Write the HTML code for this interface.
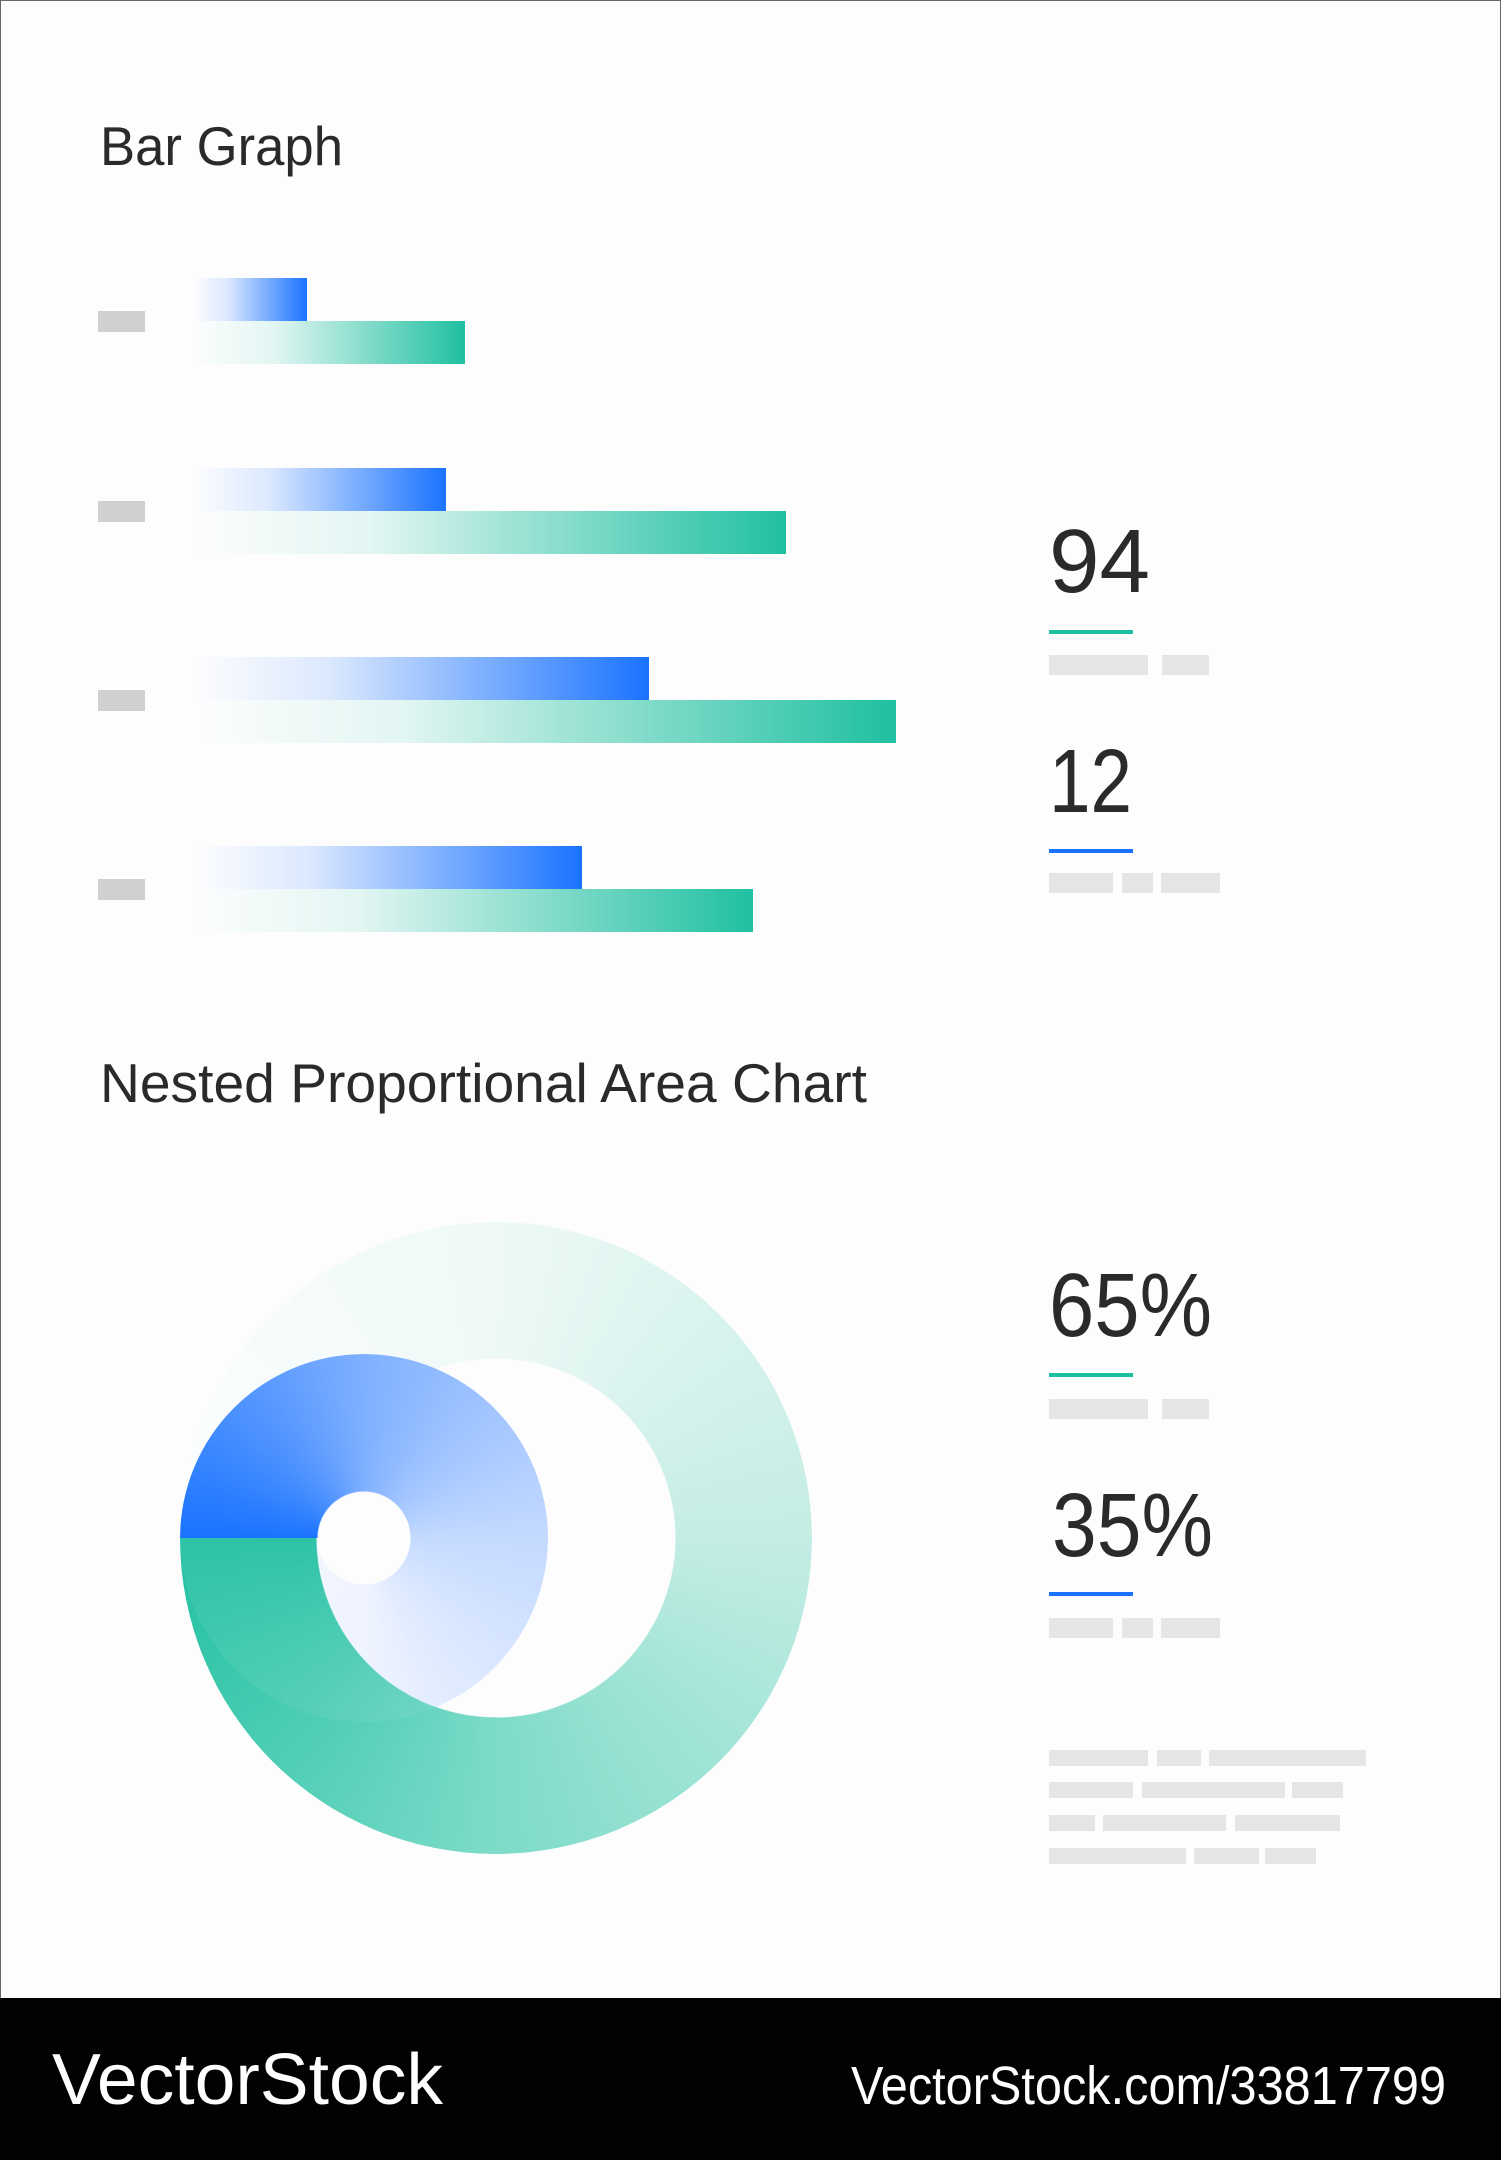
<!DOCTYPE html>
<html><head><meta charset="utf-8"><style>
html,body{margin:0;padding:0;}
body{width:1501px;height:2160px;position:relative;background:#fdfdfe;overflow:hidden;font-family:"Liberation Sans",sans-serif;}
.a{position:absolute;}
.frame{left:0;top:0;width:1499px;height:1997px;border:1px solid #666;border-bottom:none;}
.bl{position:absolute;height:43px;background:linear-gradient(90deg,rgba(26,115,255,0) 0%,rgba(26,115,255,0.15) 30%,#1a73ff 100%);}
.gr{position:absolute;height:43px;background:linear-gradient(90deg,rgba(31,192,160,0) 0%,rgba(31,192,160,0.12) 30%,#1fc0a0 100%);}
.lab{position:absolute;left:98px;width:47px;height:21px;background:#d0cfd2;}
.g{position:absolute;background:#e6e4e7;}
.ring{position:absolute;border-radius:50%;}
</style></head><body>
<div class="a frame"></div>

<div class="bl" style="left:193px;top:278px;width:114px"></div>
<div class="gr" style="left:193px;top:321px;width:272px"></div>
<div class="lab" style="top:311px"></div>
<div class="bl" style="left:193px;top:468px;width:253px"></div>
<div class="gr" style="left:193px;top:511px;width:593px"></div>
<div class="lab" style="top:501px"></div>
<div class="bl" style="left:193px;top:657px;width:456px"></div>
<div class="gr" style="left:193px;top:700px;width:703px"></div>
<div class="lab" style="top:690px"></div>
<div class="bl" style="left:193px;top:846px;width:389px"></div>
<div class="gr" style="left:193px;top:889px;width:560px"></div>
<div class="lab" style="top:879px"></div>

<div class="a" style="left:1049px;top:630px;width:84px;height:4px;background:#1fc0a0"></div>
<div class="g" style="left:1049px;top:655px;width:99px;height:20px"></div>
<div class="g" style="left:1162px;top:655px;width:47px;height:20px"></div>
<div class="a" style="left:1049px;top:849px;width:84px;height:4px;background:#1a73ff"></div>
<div class="g" style="left:1049px;top:873px;width:64px;height:20px"></div>
<div class="g" style="left:1122px;top:873px;width:31px;height:20px"></div>
<div class="g" style="left:1161px;top:873px;width:59px;height:20px"></div>

<div class="a" style="left:1049px;top:1373px;width:84px;height:4px;background:#1fc0a0"></div>
<div class="g" style="left:1049px;top:1399px;width:99px;height:20px"></div>
<div class="g" style="left:1162px;top:1399px;width:47px;height:20px"></div>
<div class="a" style="left:1049px;top:1592px;width:84px;height:4px;background:#1a73ff"></div>
<div class="g" style="left:1049px;top:1618px;width:64px;height:20px"></div>
<div class="g" style="left:1122px;top:1618px;width:31px;height:20px"></div>
<div class="g" style="left:1161px;top:1618px;width:59px;height:20px"></div>

<div class="g" style="left:1049px;top:1750px;width:99px;height:16px"></div>
<div class="g" style="left:1157px;top:1750px;width:44px;height:16px"></div>
<div class="g" style="left:1209px;top:1750px;width:157px;height:16px"></div>
<div class="g" style="left:1049px;top:1782px;width:84px;height:16px"></div>
<div class="g" style="left:1142px;top:1782px;width:143px;height:16px"></div>
<div class="g" style="left:1292px;top:1782px;width:51px;height:16px"></div>
<div class="g" style="left:1049px;top:1815px;width:46px;height:16px"></div>
<div class="g" style="left:1103px;top:1815px;width:123px;height:16px"></div>
<div class="g" style="left:1235px;top:1815px;width:105px;height:16px"></div>
<div class="g" style="left:1049px;top:1848px;width:137px;height:16px"></div>
<div class="g" style="left:1194px;top:1848px;width:65px;height:16px"></div>
<div class="g" style="left:1265px;top:1848px;width:51px;height:16px"></div>

<div class="ring" style="left:180px;top:1222px;width:632px;height:632px;
background:conic-gradient(from 270deg,#fdfeff 0deg,#eef9f7 90deg,#c4ede4 180deg,#7ddbc9 270deg,#1fc0a0 360deg);
-webkit-mask:radial-gradient(circle,transparent 179px,#000 180px);mask:radial-gradient(circle,transparent 179px,#000 180px);"></div>
<div class="ring" style="left:180px;top:1354px;width:368px;height:368px;
background:conic-gradient(from 270deg,#1a73ff 0deg,#7fb0ff 90deg,#c4daff 180deg,#f0f4ff 270deg,#f4f7ff 360deg);
-webkit-mask:radial-gradient(circle,transparent 46px,#000 47px);mask:radial-gradient(circle,transparent 46px,#000 47px);"></div>
<div class="ring" style="left:180px;top:1222px;width:632px;height:632px;opacity:0.93;clip-path:inset(316px 316px 0 0);
background:conic-gradient(from 270deg,#fdfeff 0deg,#eef9f7 90deg,#c4ede4 180deg,#7ddbc9 270deg,#1fc0a0 360deg);
-webkit-mask:radial-gradient(circle,transparent 179px,#000 180px);mask:radial-gradient(circle,transparent 179px,#000 180px);"></div>

<div class="a" style="left:0;top:1998px;width:1501px;height:162px;background:#030104"></div>

<svg class="a" style="left:0;top:0" width="1501" height="2160">
<g font-family="Liberation Sans, sans-serif" fill="#2a2a2c">
<text x="100" y="165" font-size="55" textLength="243" lengthAdjust="spacingAndGlyphs">Bar Graph</text>
<text x="100" y="1102" font-size="55" textLength="767" lengthAdjust="spacingAndGlyphs">Nested Proportional Area Chart</text>
<text x="1049" y="592" font-size="90" textLength="101" lengthAdjust="spacingAndGlyphs">94</text>
<text x="1049" y="812" font-size="90" textLength="83" lengthAdjust="spacingAndGlyphs">12</text>
<text x="1049" y="1336" font-size="90" textLength="163" lengthAdjust="spacingAndGlyphs">65%</text>
<text x="1052" y="1556" font-size="90" textLength="161" lengthAdjust="spacingAndGlyphs">35%</text>
</g>
<text x="52" y="2104" font-family="Liberation Sans, sans-serif" font-size="72" fill="#fff" textLength="391" lengthAdjust="spacingAndGlyphs">VectorStock</text>
<text x="851" y="2104" font-family="Liberation Sans, sans-serif" font-size="54" fill="#fff" textLength="595" lengthAdjust="spacingAndGlyphs">VectorStock.com/33817799</text>
</svg>
</body></html>
